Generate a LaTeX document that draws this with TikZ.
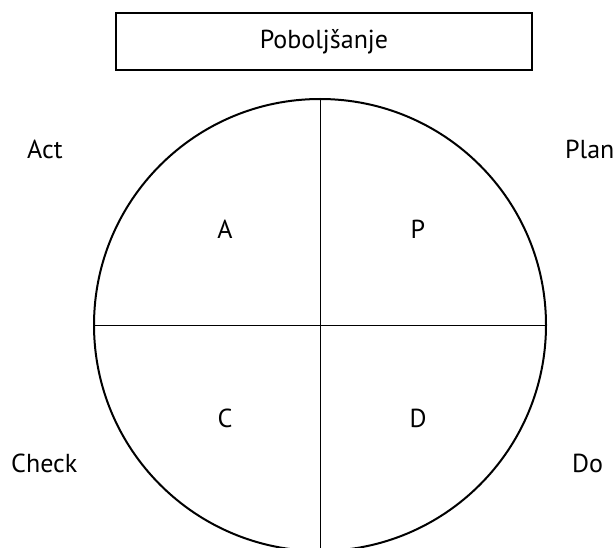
\documentclass[tikz,border=0pt]{standalone}
\usepackage{fontspec}
\setmainfont{PT Sans}
\usetikzlibrary{positioning}

\begin{document}
\begin{tikzpicture}[x=1pt,y=-1pt,font=\fontsize{26}{30}\selectfont,
    titlebox/.style={draw,line width=1.4pt,minimum width=416pt,minimum height=57pt,inner sep=0pt},
    cycle/.style={draw,circle,line width=2pt,minimum size=452pt,inner sep=0pt},
    divider/.style={line width=1pt},
    side/.style={anchor=west,inner sep=0pt}]
  \useasboundingbox (0,0) rectangle (613,548);
  % title box and PDCA circle
  \node[titlebox] (title) at (324,41.5) {Poboljšanje};
  \node[cycle] (pdca) at (320,325) {};
  \draw[divider] (pdca.north) -- (pdca.south);
  \draw[divider] (pdca.west) -- (pdca.east);
  % quadrant letters
  \node (qa) at (225,229) {A};
  \node (qp) at (418,229) {P};
  \node (qc) at (225,418) {C};
  \node (qd) at (418,418) {D};
  % outer labels
  \node[side] (act) at (27,149) {Act};
  \node[side] (plan) at (565,149) {Plan};
  \node[side] (check) at (11,463.5) {Check};
  \node[side] (do) at (572,463.5) {Do};
\end{tikzpicture}
\end{document}
